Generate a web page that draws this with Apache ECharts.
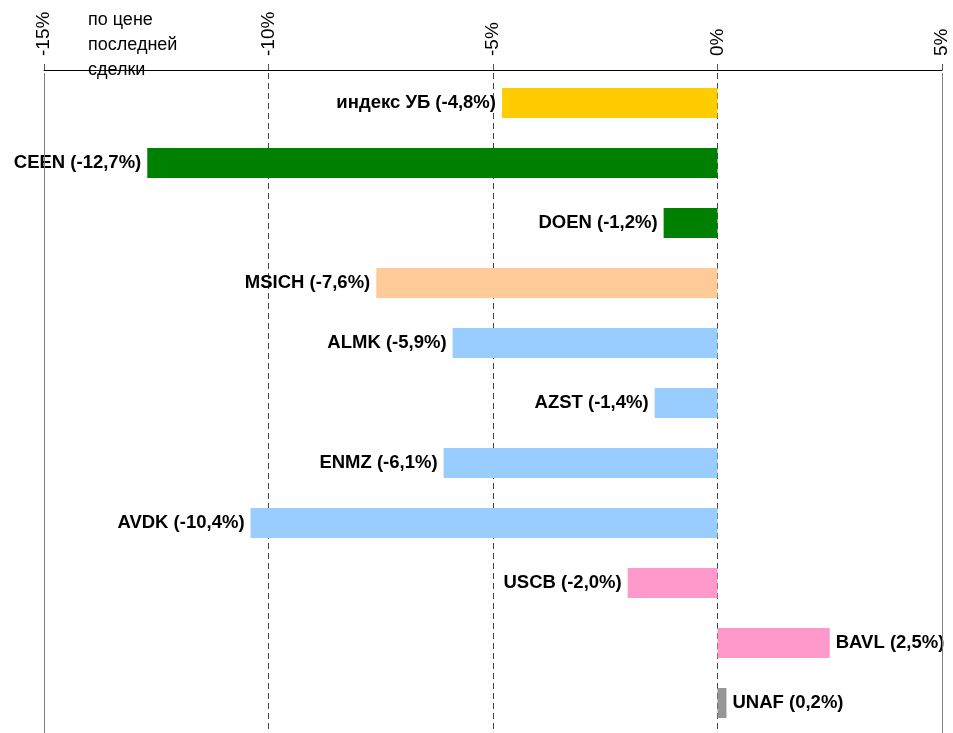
<!DOCTYPE html>
<html>
<head>
<meta charset="utf-8">
<script src="https://cdn.jsdelivr.net/npm/echarts@6/dist/echarts.min.js"></script>
<style>html,body{margin:0;padding:0;background:#fff}#c{width:953px;height:733px}</style>
</head>
<body>
<div id="c"></div>
<script>
const categories = ['индекс УБ','CEEN','DOEN','MSICH','ALMK','AZST','ENMZ','AVDK','USCB','BAVL','UNAF'];
const values = [-4.8,-12.7,-1.2,-7.6,-5.9,-1.4,-6.1,-10.4,-2.0,2.5,0.2];
const colors = ['#FFCC00','#008000','#008000','#FFCC99','#99CCFF','#99CCFF','#99CCFF','#99CCFF','#FF99CC','#FF99CC','#969696'];
const axisMin = -15, axisMax = 5, axisStep = 5;
const noteLines = ['по цене','последней','сделки'];

const chart = echarts.init(document.getElementById('c'));
const fmt = v => (v < 0 ? '-' : '') + Math.abs(v).toFixed(1).replace('.', ',');
chart.setOption({
  animation: false,
  grid: {left: 44, right: 11, top: 73, bottom: -3, containLabel: false},
  xAxis: {
    type: 'value', position: 'top', min: axisMin, max: axisMax, interval: axisStep,
    offset: 3,
    axisLine: {show: true, onZero: false, lineStyle: {color: '#000', width: 1}},
    axisTick: {show: true, length: 6, lineStyle: {color: '#555'}},
    axisLabel: {rotate: -90, margin: 14, color: '#000', fontSize: 19, fontFamily: 'Liberation Sans, Arial',
      formatter: v => v + '%'},
    splitLine: {show: true, lineStyle: {color: '#444', type: [6, 4], width: 1}}
  },
  yAxis: {
    type: 'category', data: categories, inverse: true,
    axisLine: {show: false}, axisTick: {show: false}, axisLabel: {show: false}, splitLine: {show: false}
  },
  graphic: [{
    type: 'text', left: 88, top: 8,
    style: {text: noteLines.join('\n'), fontSize: 18, lineHeight: 25, fill: '#000', fontFamily: 'Liberation Sans, Arial'}
  }],
  series: [{
    type: 'bar', barWidth: 30,
    data: values.map((v, i) => ({
      value: v,
      itemStyle: {color: colors[i]},
      label: {
        show: true, position: v < 0 ? 'left' : 'right', distance: 6,
        formatter: categories[i] + ' (' + fmt(v) + '%)',
        fontSize: 18.5, fontWeight: 'bold', color: '#000', fontFamily: 'Liberation Sans, Arial'
      }
    })),
    markLine: {
      silent: true, symbol: 'none', label: {show: false},
      lineStyle: {color: '#808080', type: 'solid', width: 1},
      data: [{xAxis: axisMin}, {xAxis: axisMax}]
    }
  }]
});
</script>
</body>
</html>
